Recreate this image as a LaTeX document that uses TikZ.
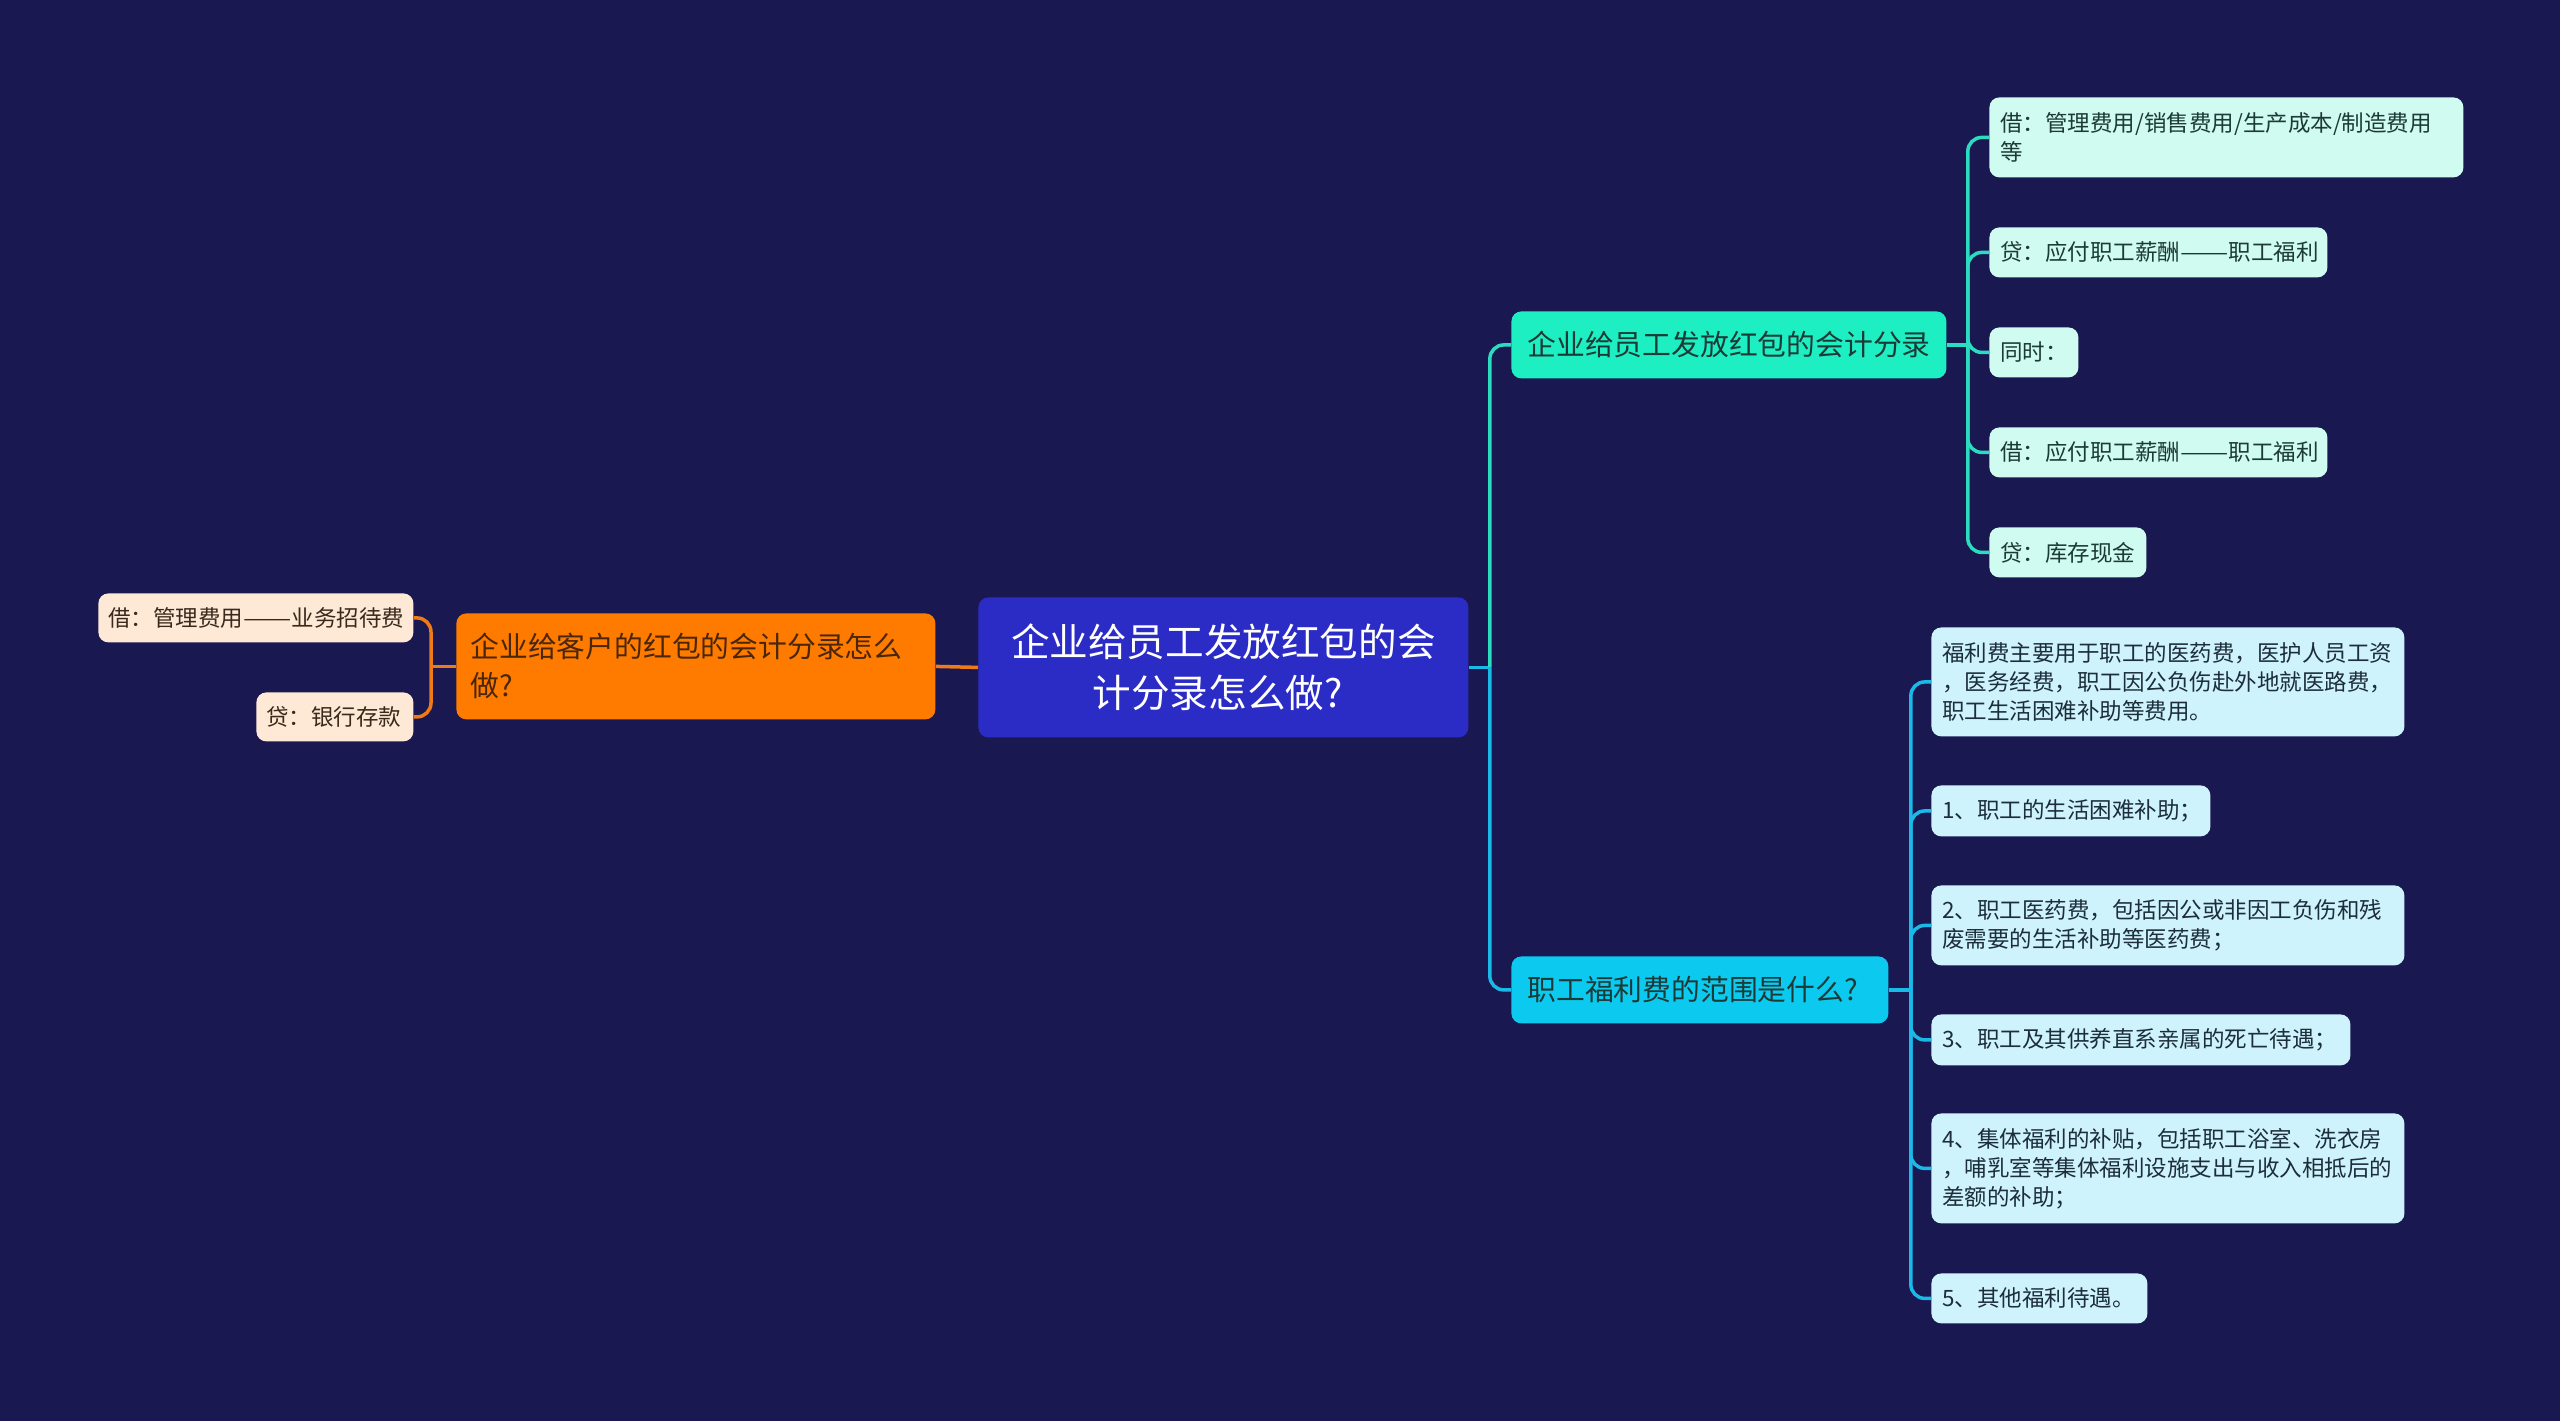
\documentclass[tikz,border=0pt]{standalone}
\usepackage{fontspec}
\setmainfont{Noto Sans CJK SC}
\usetikzlibrary{calc}
\definecolor{bg}{HTML}{1A1850}
\definecolor{rootfill}{HTML}{2B2BC6}
\definecolor{orangefill}{HTML}{FF7B00}
\definecolor{orangetext}{HTML}{4A2608}
\definecolor{orangeline}{HTML}{EE7A18}
\definecolor{peach}{HTML}{FEE9D6}
\definecolor{peachtext}{HTML}{3A2A1C}
\definecolor{tealfill}{HTML}{1EEFC3}
\definecolor{tealline}{HTML}{2CDCC0}
\definecolor{tealtext}{HTML}{1C3A36}
\definecolor{mint}{HTML}{D0FBF0}
\definecolor{cyanfill}{HTML}{0CCAEF}
\definecolor{cyanline}{HTML}{1BB9E8}
\definecolor{ice}{HTML}{CFF3FC}
\definecolor{icetext}{HTML}{1C2E3A}
\newcommand{\longdash}{\scalebox{1.28}[1]{——}}
\tikzset{
  box/.style={draw=none, rounded corners=5pt, inner ysep=0pt, anchor=north west, align=left},
  leafR/.style={box, fill=mint, text=tealtext, inner xsep=5.5pt, font=\fontsize{11.25pt}{14.5pt}\selectfont},
  leafM/.style={box, fill=ice, text=icetext, inner xsep=5.5pt, font=\fontsize{11.25pt}{14.5pt}\selectfont},
  leafL/.style={box, fill=peach, text=peachtext, inner xsep=5pt, font=\fontsize{11.25pt}{14.5pt}\selectfont},
  branchT/.style={box, fill=tealfill, text=tealtext, inner xsep=8pt, font=\fontsize{14.4pt}{19.5pt}\selectfont},
  branchC/.style={box, fill=cyanfill, text=tealtext, inner xsep=8pt, font=\fontsize{14.4pt}{19.5pt}\selectfont},
  branchO/.style={box, fill=orangefill, text=orangetext, inner xsep=7pt, font=\fontsize{14.4pt}{19.5pt}\selectfont},
  rootbox/.style={box, fill=rootfill, text=white, inner xsep=10pt, align=center, font=\fontsize{19.3pt}{25.5pt}\selectfont},
  conn/.style={line width=1.75pt, rounded corners=7pt},
  oconn/.style={conn, draw=orangeline},
  tconn/.style={conn, draw=tealline},
  cconn/.style={conn, draw=cyanline}
}
\begin{document}
\begin{tikzpicture}[x=0.5pt,y=-0.5pt]
\fill[bg] (0,0) rectangle (2560,1421);
\useasboundingbox (0,0) rectangle (2560,1421);

% root
\node[rootbox, text width=225pt, minimum height=70pt] (R) at (978,597) {企业给员工发放红包的会\\计分录怎么做?\hspace*{0.3em}};

% left side
\node[branchO, text width=225.5pt, minimum height=53pt] (O) at (456,613) {企业给客户的红包的会计分录怎么\\做?};
\node[leafL, text width=147.5pt, minimum height=24.5pt] (LL1) at (98,593) {借：管理费用\longdash 业务招待费};
\node[leafL, text width=68.5pt, minimum height=24.5pt] (LL2) at (256,692) {贷：银行存款};

% right branches
\node[branchT, text width=201.5pt, minimum height=33.5pt] (B1) at (1511,311) {企业给员工发放红包的会计分录};
\node[branchC, text width=172.5pt, minimum height=33.5pt] (B2) at (1511,956) {职工福利费的范围是什么?};

% branch 1 leaves
\node[leafR, text width=226pt, minimum height=40pt] (R1) at (1989,97) {借：管理费用/销售费用/生产成本/制造费用\\等};
\node[leafR, text width=158pt, minimum height=25pt] (R2) at (1989,227) {贷：应付职工薪酬\longdash 职工福利};
\node[leafR, text width=33.5pt, minimum height=25pt] (R3) at (1989,327) {同时：};
\node[leafR, text width=158pt, minimum height=25pt] (R4) at (1989,427) {借：应付职工薪酬\longdash 职工福利};
\node[leafR, text width=67.5pt, minimum height=25pt] (R5) at (1989,527) {贷：库存现金};

% branch 2 leaves
\node[leafM, text width=225.5pt, minimum height=54.5pt] (M1) at (1931,627) {福利费主要用于职工的医药费，医护人员工资\\，医务经费，职工因公负伤赴外地就医路费，\\职工生活困难补助等费用。};
\node[leafM, text width=128.5pt, minimum height=25.5pt] (M2) at (1931,785) {1、职工的生活困难补助；};
\node[leafM, text width=225.5pt, minimum height=40pt] (M3) at (1931,885) {2、职工医药费，包括因公或非因工负伤和残\\废需要的生活补助等医药费；};
\node[leafM, text width=198.5pt, minimum height=25.5pt] (M4) at (1931,1014) {3、职工及其供养直系亲属的死亡待遇；};
\node[leafM, text width=225.5pt, minimum height=55pt] (M5) at (1931,1113) {4、集体福利的补贴，包括职工浴室、洗衣房\\，哺乳室等集体福利设施支出与收入相抵后的\\差额的补助；};
\node[leafM, text width=97pt, minimum height=25pt] (M6) at (1931,1273) {5、其他福利待遇。};

% connectors left
\coordinate (jO) at ($(O.west)+(-25,0)$);
\draw[oconn] (R.west) -- (O.east);
\draw[oconn] (O.west) -- (jO);
\draw[oconn] (LL1.east) -| (jO) |- (LL2.east);

% trunk
\coordinate (jR) at ($(R.east)+(21,0)$);
\draw[cconn] (R.east) -- (jR);
\draw[tconn] (jR) |- (B1.west);
\draw[cconn] (jR) |- (B2.west);

% branch 1 connectors
\coordinate (jB1) at ($(B1.east)+(21,0)$);
\draw[tconn] (B1.east) -- (jB1);
\foreach \n in {R1,R2,R3,R4,R5} { \draw[tconn] (jB1) |- (\n.west); }

% branch 2 connectors
\coordinate (jB2) at ($(B2.east)+(22,0)$);
\draw[cconn] (B2.east) -- (jB2);
\foreach \n in {M1,M2,M3,M4,M5,M6} { \draw[cconn] (jB2) |- (\n.west); }
\end{tikzpicture}
\end{document}
